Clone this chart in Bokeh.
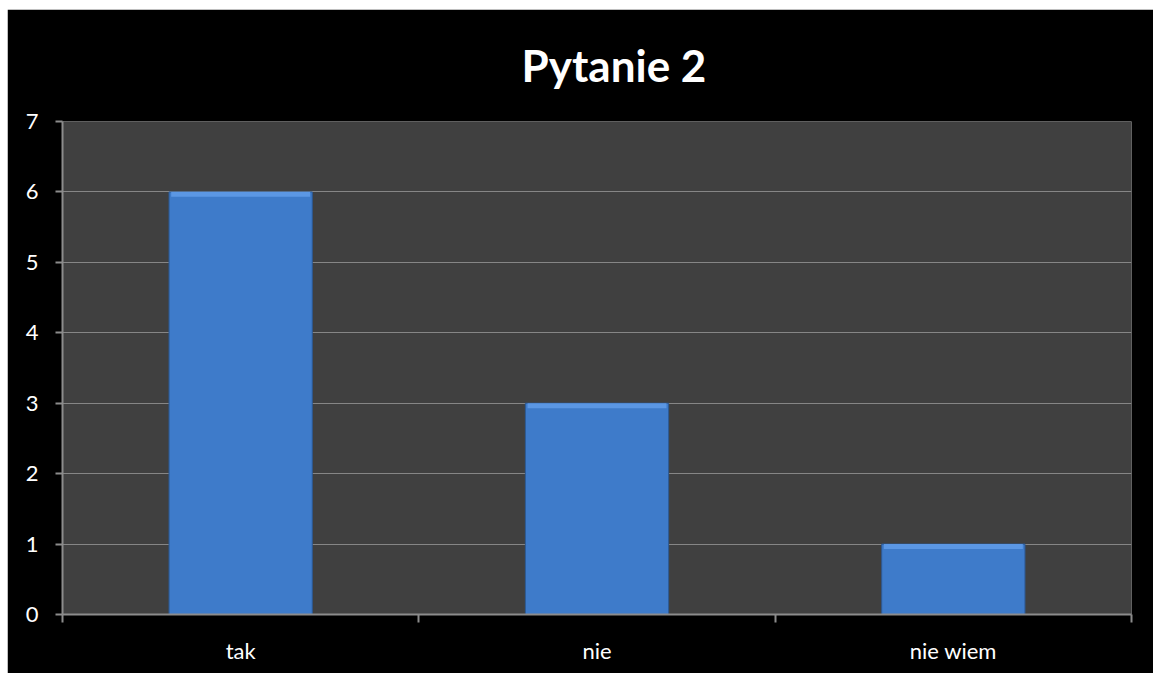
from bokeh.plotting import figure
from bokeh.models import FixedTicker, Range1d, Title, ColumnDataSource, Spacer
from bokeh.layouts import row, column
from bokeh.embed import file_html
from bokeh.resources import INLINE

categories = ["tak", "nie", "nie wiem"]
values = [6, 3, 1]
y_ticks = [0, 1, 2, 3, 4, 5, 6, 7]

FONT = "Lato"
n = len(categories)
centers = [i + 0.5 for i in range(n)]

p = figure(width=1146, height=664, output_backend="svg", toolbar_location=None,
           x_range=Range1d(0, n), y_range=Range1d(0, 7),
           min_border_left=55, min_border_right=22, min_border_bottom=59, min_border_top=112)
p.background_fill_color = "#404040"
p.border_fill_color = "black"
p.outline_line_color = None

src = ColumnDataSource(dict(x=centers, top=values,
                            hl_bottom=[v - 0.07 for v in values]))
p.vbar(x="x", top="top", bottom=0, width=0.402, source=src,
       fill_color="#3e7bca", line_color="#2c5a96", line_width=1)
p.vbar(x="x", top="top", bottom="hl_bottom", width=0.39, source=src,
       fill_color="#5b97e4", line_color=None)

p.title = Title(text="Pytanie 2", align="left", vertical_align="top", text_color="white",
                text_font=FONT, text_font_style="bold", text_font_size="44px",
                standoff=57, offset=459)

# axes
xa = p.xaxis[0]
xa.ticker = FixedTicker(ticks=centers, minor_ticks=list(range(n + 1)))
xa.major_label_overrides = {c: lab for c, lab in zip(centers, categories)}
xa.major_tick_line_color = None
xa.minor_tick_line_color = "#8c8c8c"
xa.minor_tick_line_width = 2
xa.minor_tick_in = 0
xa.minor_tick_out = 8
xa.axis_line_color = "#8c8c8c"
xa.axis_line_width = 2
xa.major_label_text_color = "white"
xa.major_label_text_font = FONT
xa.major_label_text_font_size = "22px"
xa.major_label_standoff = 14

ya = p.yaxis[0]
ya.ticker = FixedTicker(ticks=y_ticks, minor_ticks=[])
ya.major_tick_line_color = "#8c8c8c"
ya.major_tick_line_width = 2
ya.major_tick_in = 0
ya.major_tick_out = 7
ya.axis_line_color = "#8c8c8c"
ya.axis_line_width = 2
ya.major_label_text_color = "white"
ya.major_label_text_font = FONT
ya.major_label_text_font_size = "22px"
ya.major_label_standoff = 17

p.xgrid.grid_line_color = None
p.ygrid.ticker = FixedTicker(ticks=y_ticks)
p.ygrid.grid_line_color = "#868686"
p.ygrid.grid_line_width = 1

layout = column(Spacer(height=9), row(Spacer(width=7), p))
open("out.html", "w").write(file_html(layout, INLINE))
